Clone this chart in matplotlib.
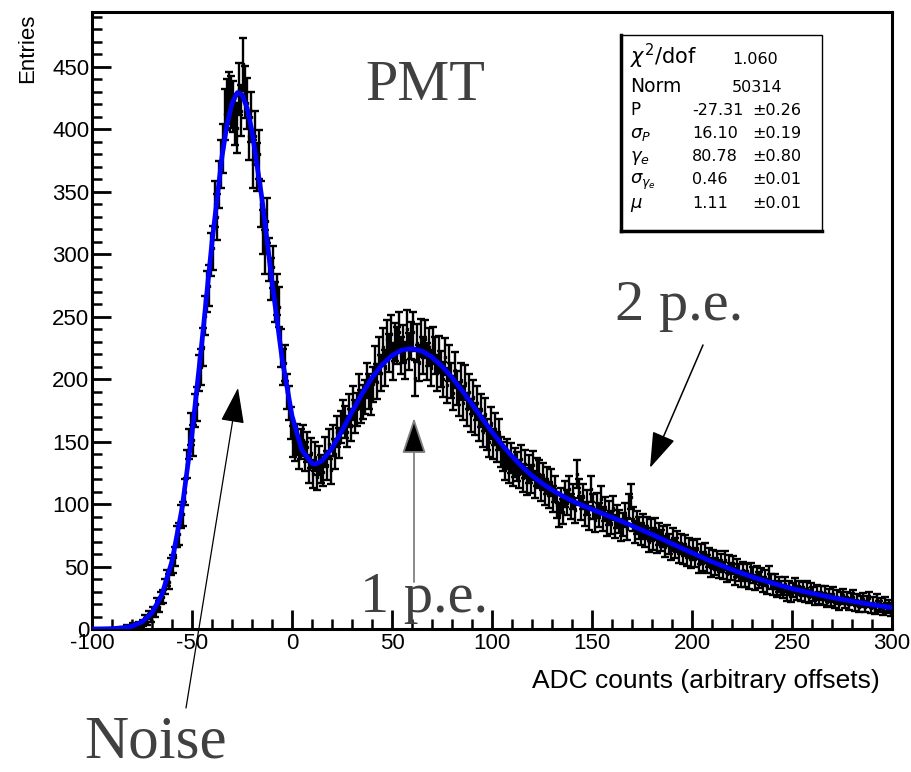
import numpy as np
import matplotlib.pyplot as plt
from matplotlib.patches import Rectangle
from matplotlib.lines import Line2D
from matplotlib.ticker import MultipleLocator

plt.rcParams['font.family'] = ['Liberation Sans', 'DejaVu Sans']
plt.rcParams['axes.unicode_minus'] = False

# ADC histogram, one count per bin, first filled bin starts at -85
first_bin = -85
counts = [
    1, 0, 2, 1, 1, 3, 2, 2, 4, 3,
    5, 8, 6, 11, 9, 14, 13, 20, 18, 25,
    26, 34, 41, 38, 50, 52, 58, 74, 76, 90,
    92, 110, 132, 148, 160, 151, 175, 180, 205, 210,
    226, 251, 270, 275, 300, 305, 340, 330, 356, 372,
    385, 412, 420, 425, 422, 418, 408, 401, 432, 415,
    452, 430, 421, 395, 410, 372, 395, 370, 380, 340,
    318, 302, 327, 296, 280, 290, 262, 268, 258, 225,
    210, 213, 190, 181, 165, 150, 147, 152, 140, 148,
    151, 138, 146, 128, 141, 124, 138, 122, 135, 128,
    126, 142, 131, 148, 127, 151, 140, 158, 149, 162,
    170, 166, 158, 175, 163, 181, 170, 176, 190, 178,
    182, 186, 199, 190, 185, 196, 212, 198, 219, 205,
    226, 209, 232, 221, 236, 214, 230, 227, 238, 219,
    228, 215, 240, 222, 231, 238, 201, 229, 213, 233,
    219, 232, 214, 226, 209, 227, 219, 205, 220, 208,
    200, 218, 195, 213, 199, 189, 207, 193, 184, 199,
    181, 197, 176, 190, 171, 186, 168, 181, 163, 175,
    158, 172, 156, 150, 165, 148, 160, 146, 156, 142,
    138, 131, 140, 128, 137, 126, 133, 130, 124, 136,
    121, 132, 118, 128, 120, 131, 116, 126, 124, 113,
    122, 110, 119, 107, 117, 104, 112, 99, 91, 103,
    94, 108, 101, 112, 98, 106, 95, 124, 110, 97,
    106, 92, 101, 89, 112, 98, 87, 99, 91, 104,
    88, 96, 84, 93, 85, 97, 82, 90, 86, 79,
    84, 91, 80, 98, 106, 88, 78, 85, 81, 76,
    83, 74, 81, 70, 79, 72, 80, 69, 76, 71,
    74, 66, 75, 68, 63, 72, 65, 70, 61, 68,
    60, 67, 58, 65, 56, 63, 57, 64, 52, 60,
    54, 61, 52, 57, 49, 56, 50, 55, 48, 53,
    47, 55, 44, 52, 46, 51, 42, 49, 45, 40,
    47, 40, 45, 38, 46, 43, 37, 44, 39, 42,
    36, 41, 34, 44, 38, 33, 38, 31, 36, 33,
    30, 36, 28, 33, 27, 31, 35, 29, 33, 28,
    32, 27, 33, 26, 31, 28, 24, 30, 25, 29,
    24, 29, 22, 27, 23, 28, 21, 26, 20, 25,
    27, 21, 25, 20, 24, 26, 19, 23, 18, 22,
    24, 18, 22, 25, 17, 21, 16, 23, 18, 20,
    15, 21, 17, 19, 14,
]

# fitted PMT response curve
fit_x = [-100, -95, -90, -85, -80, -75, -70, -65, -60, -55, -50, -45, -40,
         -35, -32.5, -30, -27.3, -25, -22.5, -20, -15, -10, -5, 0, 5, 10, 12,
         15, 20, 25, 30, 35, 40, 45, 50, 55, 60, 65, 70, 75, 80, 85, 90, 95,
         100, 105, 110, 115, 120, 125, 130, 135, 140, 145, 150, 155, 160, 165,
         170, 175, 180, 185, 190, 195, 200, 205, 210, 215, 220, 225, 230, 235,
         240, 245, 250, 255, 260, 265, 270, 275, 280, 285, 290, 295, 300]
fit_y = [0.05, 0.13, 0.32, 0.86, 2.25, 5.6, 13.0, 27.8, 54.2, 96.4, 156.3,
         230.6, 309.6, 378.2, 403.7, 421.0, 429.5, 427.9, 417.3, 398.6, 344.4,
         278.2, 216.9, 170.7, 143.0, 132.6, 132.1, 134.7, 144.7, 158.7, 173.9,
         188.3, 201.2, 211.6, 219.0, 223.4, 224.5, 222.5, 217.6, 210.4, 201.3,
         191.0, 180.0, 168.7, 157.8, 147.6, 138.3, 130.0, 122.8, 116.6, 111.3,
         106.7, 102.7, 99.1, 95.8, 92.6, 89.4, 86.1, 82.7, 79.2, 75.7, 72.0,
         68.3, 64.6, 61.0, 57.4, 53.9, 50.7, 47.5, 44.6, 41.8, 39.2, 36.8,
         34.5, 32.4, 30.4, 28.6, 26.9, 25.2, 23.7, 22.3, 20.9, 19.5, 18.3,
         17.1]

stat_names = [r'$\chi^2$/dof', 'Norm', 'P', r'$\sigma_P$', r'$\gamma_e$',
              r'$\sigma_{\gamma_e}$', r'$\mu$']
stat_values = ['1.060', '50314', '-27.31', '16.10', '80.78', '0.46', '1.11']
stat_errors = ['', '', '0.26', '0.19', '0.80', '0.01', '0.01']

W, H = 912, 772
fig = plt.figure(figsize=(W / 100, H / 100), dpi=100)
ax = fig.add_axes([92 / W, 1 - 629 / H, 800 / W, 617 / H])


def fpos(x, y):
    # pixel position measured from the top-left corner -> figure fraction
    return x / W, 1 - y / H


counts = np.array(counts, dtype=float)
centers = first_bin + 0.5 + np.arange(len(counts))
ax.errorbar(centers, counts, yerr=np.sqrt(counts), fmt='none', ecolor='black',
            elinewidth=1.7, capsize=2.6, capthick=1.7, zorder=2)
ax.plot(centers, counts, ls='none', marker='s', ms=2, color='black', zorder=2)
ax.plot(fit_x, fit_y, color='#0000ff', lw=3.4, zorder=3, solid_capstyle='round')

ax.set_xlim(-100, 300)
ax.set_ylim(0, 494)
ax.xaxis.set_major_locator(MultipleLocator(50))
ax.xaxis.set_minor_locator(MultipleLocator(10))
ax.yaxis.set_major_locator(MultipleLocator(50))
ax.yaxis.set_minor_locator(MultipleLocator(10))
ax.tick_params(which='both', direction='in', top=False, right=False)
ax.tick_params(which='major', length=14, width=2)
ax.tick_params(which='minor', length=7, width=1.8)
ax.tick_params(axis='x', labelsize=16, pad=3)
ax.tick_params(axis='y', labelsize=16, pad=2)
for sp in ax.spines.values():
    sp.set_linewidth(2.2)

fig.text(*fpos(28, 14), 'Entries', rotation=90, ha='center', va='top', fontsize=16)
fig.text(*fpos(880, 681), 'ADC counts (arbitrary offsets)', ha='right',
         va='center', fontsize=19)

# fit statistics box
box_l, box_t, box_r, box_b = 621, 35, 822, 231
fig.patches.append(Rectangle(fpos(box_l, box_b), (box_r - box_l) / W,
                             (box_b - box_t) / H, transform=fig.transFigure,
                             facecolor='white', edgecolor='black', lw=1.0,
                             zorder=5))
fig.lines.append(Line2D([box_l / W, box_l / W], [1 - box_t / H, 1 - box_b / H],
                        transform=fig.transFigure, color='black', lw=2.5, zorder=6))
fig.lines.append(Line2D([box_l / W, box_r / W], [1 - box_b / H, 1 - box_b / H],
                        transform=fig.transFigure, color='black', lw=2.5, zorder=6))
row_y = [64, 92, 115, 138, 161, 184, 208]
name_size = [15, 13.5, 12, 13, 13, 13, 13]
for i in range(len(stat_names)):
    fig.text(*fpos(630, row_y[i]), stat_names[i], fontsize=name_size[i],
             family='DejaVu Sans', va='baseline', zorder=7)
    vx = 732 if stat_errors[i] == '' else 692
    fig.text(*fpos(vx, row_y[i]), stat_values[i], fontsize=11.5,
             family='DejaVu Sans', va='baseline', zorder=7)
    if stat_errors[i]:
        fig.text(*fpos(752, row_y[i]), '\u00b1' + stat_errors[i], fontsize=11.5,
                 family='DejaVu Sans', va='baseline', zorder=7)

# labels of the peaks
serif = dict(family='Liberation Serif', color='#404040')
fig.text(*fpos(365, 100), 'PMT', fontsize=42, va='baseline', **serif)
fig.text(*fpos(615, 320), '2 p.e.', fontsize=42, va='baseline', **serif)
fig.text(*fpos(360, 612), '1 p.e.', fontsize=42, va='baseline', **serif)
fig.text(*fpos(84, 757), 'Noise', fontsize=44, va='baseline', **serif)


def arrow(tip, tail, lw, line_color):
    ax.annotate('', xy=tip, xycoords='data', xytext=(tail[0], H - tail[1]),
                textcoords='figure pixels', annotation_clip=False,
                arrowprops=dict(arrowstyle='-|>,head_length=1.5,head_width=0.5',
                                mutation_scale=15, lw=lw, edgecolor=line_color,
                                facecolor='black', shrinkA=0, shrinkB=0),
                zorder=4)


arrow((-27, 193), (186, 708), 0.9, 'black')
arrow((61, 169), (414, 582), 1.3, '#808080')
arrow((179, 129), (703, 345), 1.1, 'black')

fig.savefig('out.png', dpi=100)
